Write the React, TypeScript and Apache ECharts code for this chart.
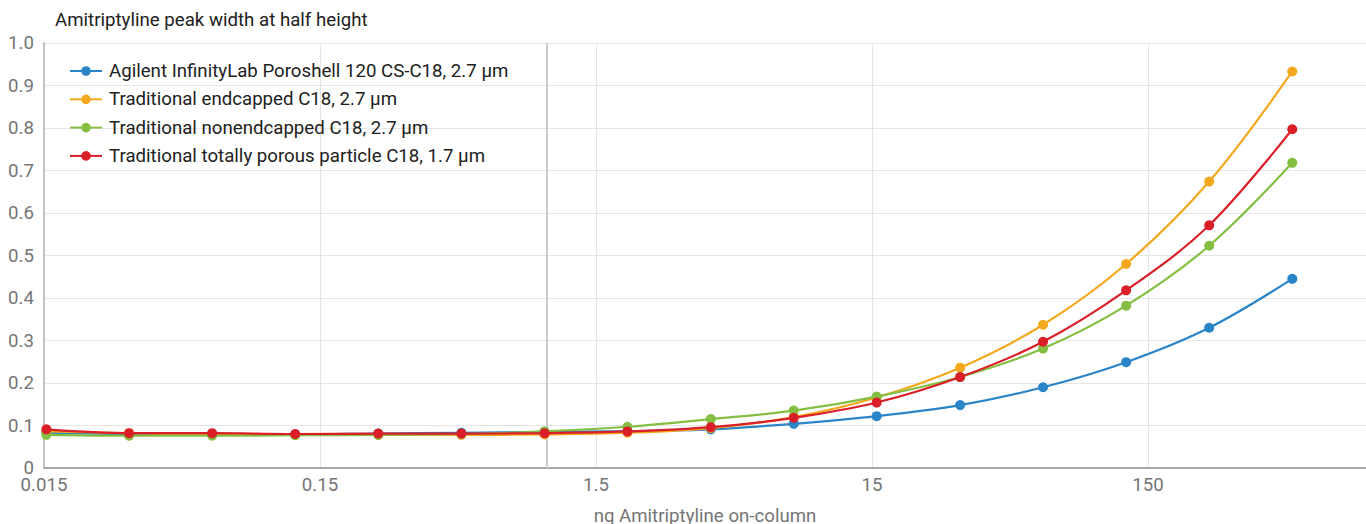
import React, { useEffect, useRef } from "react";
import * as echarts from "echarts";

// ng Amitriptyline on-column (log scale)
const ngOnColumn = [0.0153, 0.0305, 0.061, 0.122, 0.244, 0.488, 0.977, 1.95, 3.91, 7.81, 15.6, 31.3, 62.5, 125, 250, 500];

const seriesNames = [
  "Agilent InfinityLab Poroshell 120 CS-C18, 2.7 µm",
  "Traditional endcapped C18, 2.7 µm",
  "Traditional nonendcapped C18, 2.7 µm",
  "Traditional totally porous particle C18, 1.7 µm",
];

const agilent = [0.083, 0.08, 0.08, 0.079, 0.081, 0.083, 0.085, 0.087, 0.091, 0.104, 0.122, 0.148, 0.19, 0.249, 0.33, 0.445];
const endcapped = [0.086, 0.082, 0.079, 0.078, 0.078, 0.078, 0.079, 0.083, 0.094, 0.12, 0.166, 0.236, 0.337, 0.48, 0.674, 0.933];
const nonendcapped = [0.078, 0.076, 0.076, 0.077, 0.078, 0.08, 0.086, 0.097, 0.115, 0.135, 0.168, 0.214, 0.281, 0.382, 0.523, 0.718];
const totallyPorous = [0.091, 0.082, 0.082, 0.08, 0.081, 0.081, 0.082, 0.086, 0.096, 0.118, 0.154, 0.214, 0.297, 0.418, 0.571, 0.797];

const colors = ["#2a84c8", "#f4a81d", "#84bf41", "#da1f28"];

const xTickLabels = ["0.015", "0.15", "1.5", "15", "150"];
const xAxisOrigin = 0.015; // value at left edge of the log axis
const xAxisMaxDecades = 4.79;
const xBaseline = 1;

const toLog = (v: number) => Math.log10(v / xAxisOrigin);

export default function App() {
  const ref = useRef<HTMLDivElement>(null);
  useEffect(() => {
    if (!ref.current) return;
    const chart = echarts.init(ref.current, undefined, { renderer: "svg" });
    const allValues = [agilent, endcapped, nonendcapped, totallyPorous];
    const font = "Roboto, 'Noto Sans', sans-serif";
    const fs = 18.67;
    chart.setOption({
      animation: false,
      color: colors,
      textStyle: { fontFamily: font },
      title: {
        text: "Amitriptyline peak width at half height",
        left: 50,
        top: 5,
        textStyle: { fontSize: fs, fontWeight: "normal", color: "#212121", fontFamily: font },
      },
      legend: {
        orient: "vertical",
        left: 64,
        top: 56,
        itemWidth: 32,
        itemHeight: 12,
        itemGap: 8.3,
        data: seriesNames,
        textStyle: { fontSize: fs, color: "#212121", lineHeight: 20, padding: [0, 0, 0, 2], fontFamily: font },
      },
      grid: { left: 44, right: 0, top: 43, bottom: 56, containLabel: false, outerBoundsMode: "none" },
      xAxis: {
        type: "value",
        min: 0,
        max: xAxisMaxDecades,
        interval: 1,
        name: "ng Amitriptyline on-column",
        nameLocation: "middle",
        nameGap: 38,
        nameTextStyle: { fontSize: fs, color: "#757575", fontFamily: font },
        axisLine: { show: true, lineStyle: { color: "#a8a8ac", width: 2 } },
        axisTick: { show: false },
        axisLabel: {
          fontSize: fs,
          lineHeight: 16,
          color: "#757575",
          margin: 9,
          showMaxLabel: false,
          formatter: (v: number) => xTickLabels[Math.round(v)] ?? "",
        },
        splitLine: { show: true, lineStyle: { color: "#e6e6e6", width: 1 } },
      },
      yAxis: {
        type: "value",
        min: 0,
        max: 1,
        interval: 0.1,
        axisLine: { show: true, lineStyle: { color: "#c4c4c8", width: 2 } },
        axisTick: { show: false },
        axisLabel: {
          fontSize: fs,
          lineHeight: 14,
          color: "#757575",
          margin: 10,
          formatter: (v: number) => (v === 0 ? "0" : v.toFixed(1)),
        },
        splitLine: { show: true, lineStyle: { color: "#e6e6e6", width: 1 } },
      },
      series: seriesNames.map((name, i) => ({
        name,
        type: "line",
        smooth: 0.35,
        symbol: "circle",
        symbolSize: 10,
        lineStyle: { width: 2.2, color: colors[i] },
        itemStyle: { color: colors[i] },
        data: ngOnColumn.map((x, k) => [toLog(x), allValues[i][k]]),
        z: 3 + i,
        markLine:
          i === 0
            ? {
                silent: true,
                symbol: "none",
                label: { show: false },
                lineStyle: { color: "#cccccc", width: 2, type: "solid" },
                data: [{ xAxis: toLog(xBaseline) }],
                z: 1,
              }
            : undefined,
      })),
    });
    return () => chart.dispose();
  }, []);
  return (
    <div
      ref={ref}
      style={{ position: "absolute", left: 0, top: 0, width: 1366, height: 524 }}
    />
  );
}
